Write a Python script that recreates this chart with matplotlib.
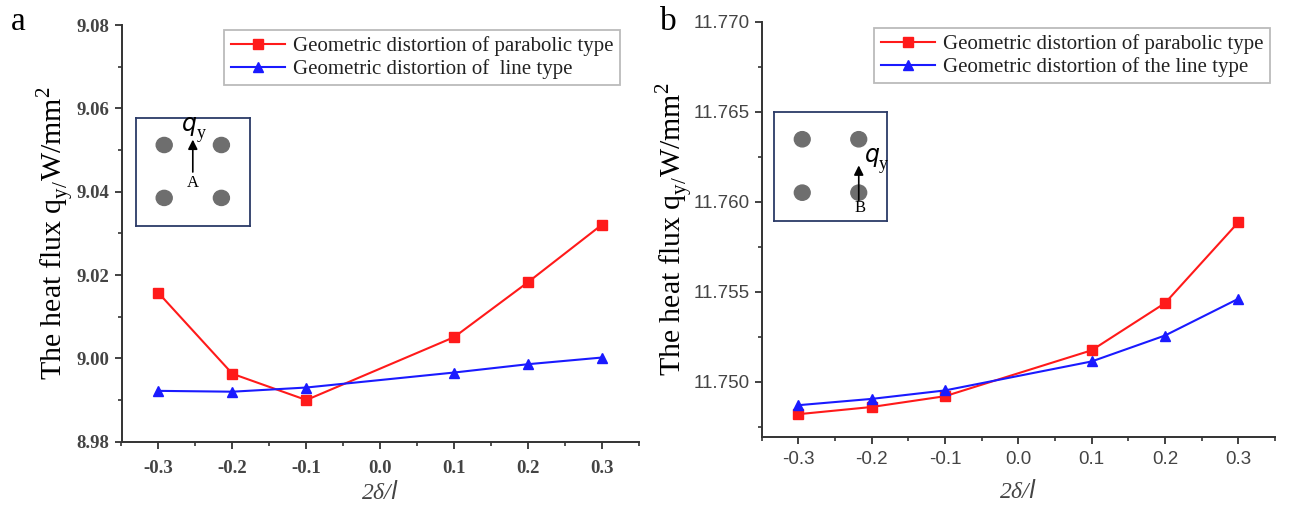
import matplotlib
matplotlib.use("Agg")
import matplotlib.pyplot as plt
from matplotlib.patches import Circle
from matplotlib.ticker import MultipleLocator, FormatStrFormatter

x_a = [-0.3, -0.2, -0.1, 0.1, 0.2, 0.3]
parab_a = [9.0157, 8.9963, 8.9900, 9.0051, 9.0183, 9.0321]
line_a = [8.9922, 8.9920, 8.9930, 8.9966, 8.9986, 9.0002]

x_b = [-0.3, -0.2, -0.1, 0.1, 0.2, 0.3]
parab_b = [11.7482, 11.7486, 11.7492, 11.75175, 11.75437, 11.75886]
line_b = [11.7487, 11.74905, 11.74952, 11.75113, 11.75257, 11.75461]

xticks = [-0.3, -0.2, -0.1, 0.0, 0.1, 0.2, 0.3]
legend_a = ["Geometric distortion of parabolic type", "Geometric distortion of  line type"]
legend_b = ["Geometric distortion of parabolic type", "Geometric distortion of the line type"]
ylabel = "The heat flux q$_{\\mathregular{y/}}$W/mm$^{\\mathregular{2}}$"

SERIF = "Liberation Serif"
SANS = "Liberation Sans"
W, H = 1289, 508
fig = plt.figure(figsize=(W / 100, H / 100), dpi=100)

RED = "#ff1a1a"
BLUE = "#1a1aff"


def style_axes(ax, tickfont, yfmt, bold, xpad):
    for s in ["top", "right"]:
        ax.spines[s].set_visible(False)
    for s in ["left", "bottom"]:
        ax.spines[s].set_linewidth(1.4)
        ax.spines[s].set_color("#333333")
    ax.set_xlim(-0.35, 0.35)
    ax.set_xticks(xticks)
    ax.xaxis.set_major_formatter(FormatStrFormatter("%.1f"))
    ax.xaxis.set_minor_locator(MultipleLocator(0.05))
    ax.yaxis.set_major_formatter(FormatStrFormatter(yfmt))
    ax.tick_params(which="major", direction="out", length=5, width=1.3, color="#333333",
                   labelsize=13.5, labelcolor="#444444")
    ax.tick_params(axis="x", which="major", pad=xpad)
    ax.tick_params(which="minor", direction="out", length=3, width=1.2, color="#333333")
    for lab in ax.get_xticklabels() + ax.get_yticklabels():
        lab.set_fontfamily(tickfont)
        lab.set_fontweight("bold" if bold else "normal")


def plot_series(ax, x, p, l, labels, anchor):
    ax.plot(x, p, color=RED, lw=1.5, marker="s", ms=7, label=labels[0])
    ax.plot(x, l, color=BLUE, lw=1.5, marker="^", ms=7.5, label=labels[1])
    leg = ax.legend(loc="upper right", bbox_to_anchor=anchor, frameon=True, fancybox=False,
                    prop={"family": SERIF, "size": 15}, handlelength=2.6, handletextpad=0.4,
                    borderpad=0.3, labelspacing=0.15, borderaxespad=0)
    leg.get_frame().set_edgecolor("#aaaaaa")
    leg.get_frame().set_linewidth(1.3)
    for t in leg.get_texts():
        t.set_color("#222222")


def inset(rect, label, arrow_x, arrow_y0, arrow_y1, qx, qy, lx, ly, dots):
    ia = fig.add_axes(rect)
    ia.set_xlim(0, 1)
    ia.set_ylim(0, 1)
    ia.set_xticks([])
    ia.set_yticks([])
    for s in ia.spines.values():
        s.set_color("#2b3a67")
        s.set_linewidth(1.3)
    for (cx, cy) in dots:
        ia.add_patch(Circle((cx, cy), 0.07, transform=ia.transData, color="#6e6e6e"))
    ia.annotate("", xy=(arrow_x, arrow_y1), xytext=(arrow_x, arrow_y0),
                arrowprops=dict(arrowstyle="-|>", color="black", lw=1.2, mutation_scale=14,
                                shrinkA=0, shrinkB=0))
    ia.text(qx, qy, "$q$", fontsize=17, family=SERIF, ha="center", va="center")
    ia.text(qx + 0.1, qy - 0.06, "y", fontsize=13, family=SERIF, ha="center", va="center")
    ia.text(lx, ly, label, fontsize=12, family=SERIF, ha="center", va="center")
    return ia


# Panel a
ax1 = fig.add_axes([121.5 / W, 1 - 441.7 / H, (639 - 121.5) / W, (441.7 - 25) / H])
plot_series(ax1, x_a, parab_a, line_a, legend_a, (0.963, 0.988))
ax1.set_ylim(8.98, 9.08)
ax1.yaxis.set_major_locator(MultipleLocator(0.02))
ax1.yaxis.set_minor_locator(MultipleLocator(0.01))
style_axes(ax1, SERIF, "%.2f", True, 8)
ax1.set_xlabel("2δ/$l$", family=SERIF, style="italic", fontsize=17, color="#444444")
ax1.xaxis.set_label_coords(0.5, -0.095)
ax1.set_ylabel(ylabel, family=SERIF, fontsize=21.5)
ax1.yaxis.set_label_coords(-0.087, 0.5)

# Panel b
ax2 = fig.add_axes([761.7 / W, 1 - 436.7 / H, (1275 - 761.7) / W, (436.7 - 21.7) / H])
plot_series(ax2, x_b, parab_b, line_b, legend_b, (0.990, 0.985))
ax2.set_ylim(11.74695, 11.770)
ax2.yaxis.set_major_locator(MultipleLocator(0.005))
ax2.yaxis.set_minor_locator(MultipleLocator(0.0025))
style_axes(ax2, SANS, "%.3f", False, 5)
ax2.set_xlabel("2δ/$l$", family=SERIF, style="italic", fontsize=17, color="#444444")
ax2.xaxis.set_label_coords(0.5, -0.105)
ax2.set_ylabel(ylabel, family=SERIF, fontsize=21.5)
ax2.yaxis.set_label_coords(-0.13, 0.5)

# Insets (schematic diagrams)
inset([135.6 / W, 1 - 226 / H, (250 - 135.6) / W, (226 - 118) / H], "A",
      0.5, 0.50, 0.80, 0.47, 0.92, 0.5, 0.40,
      [(0.25, 0.75), (0.75, 0.75), (0.25, 0.26), (0.75, 0.26)])
inset([774 / W, 1 - 221 / H, (887 - 774) / W, (221 - 112) / H], "B",
      0.75, 0.19, 0.51, 0.87, 0.58, 0.76, 0.12,
      [(0.25, 0.75), (0.75, 0.75), (0.25, 0.26), (0.75, 0.26)])

fig.text(18 / W, 1 - 22 / H, "a", family=SERIF, fontsize=24, ha="center", va="center")
fig.text(668 / W, 1 - 22 / H, "b", family=SERIF, fontsize=24, ha="center", va="center")

fig.savefig("out.png", dpi=100)
